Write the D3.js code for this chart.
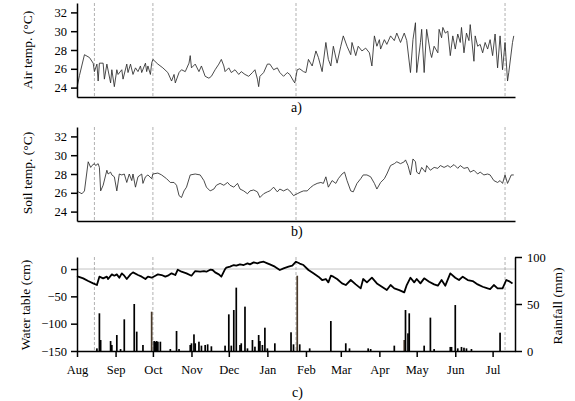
<!DOCTYPE html>
<html>
<head>
<meta charset="utf-8">
<script src="https://cdn.jsdelivr.net/npm/d3@7"></script>
<style>
  body { margin: 0; background: #fff; }
  svg { font-family: "Liberation Serif", "Times New Roman", serif; }
  .axis path, .axis line { stroke: #000; stroke-width: 1.5; }
  .axis text { font-size: 12.5px; fill: #000; font-family: "Liberation Serif", serif; }
  .axis-label { font-size: 13.5px; fill: #000; }
  .panel-label { font-size: 14px; fill: #000; }
</style>
</head>
<body>
<div id="chart"></div>
<script>
// day 0 = 1 Aug
const startDate = new Date(2010, 7, 1);
const endDate = new Date(2010, 7, 1 + 352);
const markerDays = [14, 61, 176, 344];

const tempTicks = [24, 26, 28, 30, 32];
const waterTicks = [0, -50, -100, -150];
const rainTicks = [0, 50, 100];

const airDays = [0, 2, 6, 10, 13, 14, 16, 17, 18, 21, 22, 24, 27, 28, 30, 32, 33, 36, 37, 40, 41, 43, 45, 47, 49, 51, 52, 55, 56, 57, 59, 60, 61, 65, 69, 73, 76, 78, 79, 82, 84, 87, 90, 91, 92, 95, 98, 100, 103, 106, 108, 111, 114, 116, 118, 119, 122, 124, 127, 130, 132, 135, 138, 141, 143, 145, 146, 147, 150, 153, 155, 158, 161, 163, 166, 169, 171, 174, 175, 177, 179, 182, 184, 186, 189, 192, 194, 197, 200, 202, 204, 206, 209, 212, 214, 217, 220, 221, 224, 226, 229, 232, 235, 237, 239, 241, 243, 244, 247, 249, 252, 255, 257, 260, 263, 265, 268, 270, 272, 273, 276, 277, 279, 281, 284, 285, 287, 290, 291, 293, 294, 296, 298, 300, 302, 304, 306, 308, 309, 311, 313, 315, 316, 319, 320, 322, 324, 326, 328, 330, 332, 334, 336, 338, 340, 342, 344, 346, 347, 350, 351];
const airTemp = [24.0, 25.3, 27.5, 27.2, 26.6, 25.7, 26.5, 24.7, 26.6, 26.6, 24.9, 26.5, 24.5, 25.9, 24.1, 25.9, 25.4, 25.9, 24.9, 26.5, 25.6, 26.5, 25.4, 26.1, 25.7, 26.3, 25.6, 26.6, 25.7, 26.3, 25.4, 26.6, 27.0, 26.5, 26.1, 25.6, 24.7, 25.4, 24.5, 25.6, 25.9, 25.7, 26.6, 27.4, 26.1, 26.5, 25.7, 26.3, 25.2, 25.0, 25.2, 25.9, 26.5, 27.0, 26.3, 25.7, 26.1, 25.6, 25.9, 25.4, 25.7, 25.4, 25.2, 25.6, 25.9, 24.9, 24.1, 25.2, 25.6, 26.5, 26.5, 25.9, 26.1, 25.6, 25.2, 25.6, 25.4, 24.7, 24.5, 25.9, 26.0, 25.7, 25.6, 27.0, 26.3, 27.9, 27.2, 25.7, 28.8, 27.0, 26.3, 28.4, 26.6, 28.4, 29.5, 28.4, 27.5, 28.8, 27.4, 28.4, 27.9, 28.2, 27.7, 26.3, 29.5, 28.4, 29.1, 28.1, 29.1, 28.6, 29.5, 29.0, 29.8, 28.8, 29.8, 29.0, 25.6, 29.1, 30.9, 25.6, 28.8, 30.2, 25.6, 30.2, 27.7, 27.2, 28.4, 27.7, 30.2, 29.3, 30.4, 29.8, 30.0, 27.4, 29.5, 28.1, 29.7, 28.8, 30.4, 27.7, 29.8, 29.0, 30.7, 26.8, 29.5, 28.4, 28.6, 27.7, 28.8, 28.1, 29.1, 27.4, 29.7, 26.1, 29.5, 25.9, 28.8, 24.7, 25.6, 28.8, 29.5];

const soilDays = [0, 1, 4, 6, 9, 11, 12, 14, 15, 17, 18, 19, 21, 24, 25, 27, 28, 30, 32, 34, 36, 38, 40, 42, 44, 45, 47, 49, 52, 53, 55, 57, 60, 61, 65, 68, 72, 75, 78, 80, 82, 84, 86, 88, 91, 95, 99, 102, 104, 107, 110, 112, 115, 118, 121, 123, 126, 129, 131, 134, 137, 139, 142, 145, 147, 150, 153, 155, 158, 161, 163, 166, 169, 171, 174, 177, 180, 182, 185, 188, 190, 193, 196, 198, 200, 202, 205, 208, 210, 213, 215, 217, 220, 222, 225, 228, 230, 233, 236, 239, 241, 244, 247, 249, 252, 255, 257, 260, 263, 264, 266, 268, 270, 272, 273, 275, 277, 280, 281, 284, 287, 290, 292, 295, 298, 300, 303, 306, 308, 311, 314, 316, 319, 322, 324, 327, 330, 332, 335, 338, 340, 342, 344, 346, 349, 351];
const soilTemp = [26.0, 26.1, 25.9, 26.2, 29.3, 28.7, 28.9, 29.1, 28.9, 29.1, 28.7, 26.2, 26.8, 28.4, 28.0, 28.2, 27.9, 27.7, 26.2, 28.0, 27.9, 28.0, 27.1, 28.0, 27.3, 28.0, 26.6, 27.7, 28.0, 27.0, 27.7, 27.9, 27.5, 28.0, 28.1, 27.9, 27.5, 27.1, 27.1, 26.8, 25.7, 25.5, 26.2, 26.6, 27.9, 28.0, 27.9, 27.3, 26.6, 26.2, 26.4, 26.8, 27.0, 26.8, 27.1, 26.8, 26.6, 27.0, 26.4, 26.2, 25.9, 26.2, 26.3, 26.1, 25.5, 25.9, 26.1, 26.2, 26.6, 26.1, 26.4, 26.2, 26.4, 26.2, 25.7, 25.9, 26.1, 26.2, 26.2, 26.6, 26.8, 27.0, 27.1, 27.0, 27.7, 26.6, 27.3, 27.0, 27.5, 28.0, 28.2, 27.3, 26.2, 26.1, 27.0, 27.5, 27.9, 27.9, 27.7, 27.0, 26.4, 27.1, 27.5, 28.0, 28.9, 29.1, 29.3, 29.1, 29.3, 29.5, 28.9, 27.9, 29.6, 29.3, 28.2, 28.0, 28.7, 28.2, 28.9, 28.4, 28.7, 28.6, 28.9, 28.7, 28.9, 28.7, 29.0, 28.6, 28.9, 28.6, 28.7, 28.2, 28.4, 28.0, 28.2, 27.9, 28.0, 27.9, 27.3, 27.1, 27.3, 27.0, 27.9, 27.0, 27.9, 27.9];

const waterDays = [0, 1, 5, 9, 13, 16, 18, 21, 24, 25, 28, 30, 32, 34, 36, 38, 40, 43, 45, 49, 52, 55, 57, 60, 63, 65, 68, 71, 73, 76, 79, 81, 84, 88, 92, 95, 99, 102, 104, 107, 109, 111, 114, 116, 119, 120, 123, 126, 128, 131, 134, 137, 139, 142, 145, 147, 150, 153, 155, 159, 163, 166, 170, 173, 176, 179, 182, 186, 190, 194, 197, 200, 202, 204, 206, 209, 213, 216, 220, 224, 228, 230, 233, 237, 241, 245, 249, 252, 255, 259, 263, 265, 268, 271, 273, 276, 279, 283, 287, 290, 293, 296, 300, 304, 307, 310, 314, 318, 322, 326, 330, 332, 335, 338, 342, 345, 347, 350];
const waterTable = [-13, -14.0, -17.1, -22.0, -26.3, -29.3, -14.0, -17.1, -14.0, -18.3, -9.8, -12.2, -9.8, -15.9, -7.9, -12.2, -18.3, -9.8, -6.1, -11.0, -14.0, -18.3, -14.0, -15.9, -12.2, -9.8, -11.0, -14.0, -12.2, -7.9, -11.0, -1.2, -4.9, -7.9, -12.2, -3.7, -4.9, -3.7, -4.9, -1.2, -1.8, -6.1, -9.8, -14.0, 0, 2.4, 4.3, 7.3, 6.1, 8.5, 7.3, 10.4, 8.5, 12.2, 10.4, 12.2, 13.4, 10.4, 8.5, 4.3, -1.8, 1.2, 4.3, 6.1, 13.4, 10.0, 7.3, -1.8, -7.9, -14.0, -20.1, -18.3, -24.4, -12.2, -14.0, -18.3, -26.3, -29.3, -20.1, -28.1, -35.4, -18.3, -24.4, -15.9, -26.3, -32.4, -38.5, -29.3, -35.4, -38.5, -42.7, -29.3, -15.9, -24.4, -18.3, -26.3, -17.1, -23.2, -28.1, -30.5, -20.1, -30.5, -7.9, -15.9, -20.1, -14.0, -20.1, -22.0, -28.1, -32.4, -35.4, -36.6, -29.3, -35.4, -35.4, -20.1, -22.0, -26.3];

const rainDays = [16, 18, 19, 27, 28, 32, 35, 38, 46, 48, 53, 60, 62, 63, 64, 65, 67, 75, 80, 82, 91, 92, 94, 95, 98, 100, 103, 105, 108, 119, 122, 124, 126, 128, 131, 132, 135, 137, 141, 143, 146, 147, 149, 151, 153, 159, 172, 174, 177, 179, 187, 204, 216, 219, 234, 236, 255, 263, 264, 266, 267, 279, 284, 287, 300, 301, 304, 306, 309, 311, 313, 317, 340];
const rainfall = [2.8, 40.1, 11.7, 10.6, 6.4, 17.0, 2.1, 33.7, 50.0, 20.6, 6.4, 41.8, 10.6, 9.9, 10.6, 9.9, 9.9, 2.1, 21.3, 2.1, 6.4, 8.2, 17.7, 8.2, 9.9, 5.7, 6.4, 7.1, 5.0, 5.7, 39.0, 5.7, 43.6, 67.4, 6.4, 8.2, 47.2, 2.8, 11.7, 4.6, 17.0, 10.6, 6.4, 24.8, 2.8, 8.2, 19.9, 7.1, 80.1, 7.1, 2.8, 31.9, 8.2, 2.8, 2.8, 2.1, 5.7, 11.7, 43.6, 18.8, 40.1, 5.7, 35.5, 2.1, 4.3, 4.3, 48.9, 2.8, 4.3, 3.5, 2.8, 2.1, 19.5];
const highlightRainDays = [60, 177, 263];

const toDate = (d) => new Date(2010, 7, 1 + d);

const width = 575;
const height = 401;
const plotLeft = 77;
const plotRight = 515;
const panelA = { top: 3, bottom: 97 };
const panelB = { top: 127, bottom: 221 };
const panelC = { top: 257, bottom: 351 };

const svg = d3.select('#chart')
  .append('svg')
    .attr('width', width)
    .attr('height', height);

svg.append('rect')
    .attr('width', width)
    .attr('height', height)
    .attr('fill', '#fff');

const x = d3.scaleTime()
    .domain([startDate, endDate])
    .range([plotLeft, plotRight]);

function DrawMarkers(panel) {
  svg.append('g')
      .attr('class', 'markers')
    .selectAll('line')
    .data(markerDays)
    .enter().append('line')
      .attr('x1', (d) => x(toDate(d)))
      .attr('x2', (d) => x(toDate(d)))
      .attr('y1', panel.top)
      .attr('y2', panel.bottom)
      .attr('stroke', '#a8a8a8')
      .attr('stroke-width', 0.9)
      .attr('stroke-dasharray', '3,2');
}

function TempPanel(panel, days, values, label, labelY, tag) {
  const y = d3.scaleLinear()
      .domain([23, 33])
      .range([panel.bottom, panel.top]);

  DrawMarkers(panel);

  const line = d3.line()
      .x((d, i) => x(toDate(days[i])))
      .y((d) => y(d));

  svg.append('path')
      .datum(values)
      .attr('fill', 'none')
      .attr('stroke', '#2a2a2a')
      .attr('stroke-width', 0.85)
      .attr('stroke-linejoin', 'round')
      .attr('d', line);

  svg.append('g')
      .attr('class', 'axis')
      .attr('transform', 'translate(' + plotLeft + ',0)')
      .call(d3.axisLeft(y)
        .tickValues(tempTicks)
        .tickSize(6)
        .tickPadding(4)
        .tickSizeOuter(0));

  svg.append('g')
      .attr('class', 'axis')
      .attr('transform', 'translate(0,' + panel.bottom + ')')
      .call(d3.axisBottom(x)
        .tickValues([])
        .tickSizeOuter(0));

  svg.append('text')
      .attr('class', 'axis-label')
      .attr('text-anchor', 'middle')
      .attr('transform', 'translate(27,' + labelY + ') rotate(-90)')
      .attr('dy', '0.35em')
      .text(label);

  svg.append('text')
      .attr('class', 'panel-label')
      .attr('x', 291)
      .attr('y', panel.bottom + 15)
      .text(tag);
}

TempPanel(panelA, airDays, airTemp, 'Air temp. (°C)', 50, 'a)');
TempPanel(panelB, soilDays, soilTemp, 'Soil temp. (°C)', 173, 'b)');

// panel c
const yWater = d3.scaleLinear()
    .domain([-150, 22])
    .range([panelC.bottom, panelC.top]);
const yRain = d3.scaleLinear()
    .domain([0, 100])
    .range([panelC.bottom, panelC.top]);

svg.append('line')
    .attr('x1', plotLeft)
    .attr('x2', plotRight)
    .attr('y1', yWater(0))
    .attr('y2', yWater(0))
    .attr('stroke', '#c4c4c4')
    .attr('stroke-width', 1);

DrawMarkers(panelC);

const barWidth = 1.7;
svg.append('g')
    .attr('class', 'bars')
  .selectAll('rect')
  .data(rainfall)
  .enter().append('rect')
    .attr('x', (d, i) => x(toDate(rainDays[i])) - barWidth / 2)
    .attr('y', (d) => yRain(d))
    .attr('width', barWidth)
    .attr('height', (d) => yRain(0) - yRain(d))
    .attr('fill', (d, i) => highlightRainDays.indexOf(rainDays[i]) >= 0 ? '#4a3a2a' : '#000');

const waterLine = d3.line()
    .x((d, i) => x(toDate(waterDays[i])))
    .y((d) => yWater(d));

svg.append('path')
    .datum(waterTable)
    .attr('fill', 'none')
    .attr('stroke', '#000')
    .attr('stroke-width', 1.8)
    .attr('stroke-linejoin', 'round')
    .attr('d', waterLine);

svg.append('g')
    .attr('class', 'axis')
    .attr('transform', 'translate(' + plotLeft + ',0)')
    .call(d3.axisLeft(yWater)
      .tickValues(waterTicks)
      .tickSize(6)
      .tickPadding(4)
      .tickSizeOuter(0));

svg.append('g')
    .attr('class', 'axis')
    .attr('transform', 'translate(' + plotRight + ',0)')
    .call(d3.axisRight(yRain)
      .tickValues(rainTicks)
      .tickSize(7)
      .tickPadding(5)
      .tickSizeOuter(0));

svg.append('g')
    .attr('class', 'axis')
    .attr('transform', 'translate(0,' + panelC.bottom + ')')
    .call(d3.axisBottom(x)
      .ticks(d3.timeMonth.every(1))
      .tickFormat(d3.timeFormat('%b'))
      .tickSize(6)
      .tickPadding(8)
      .tickSizeOuter(0));

svg.append('text')
    .attr('class', 'axis-label')
    .attr('text-anchor', 'middle')
    .attr('transform', 'translate(25,305) rotate(-90)')
    .attr('dy', '0.35em')
    .text('Water table (cm)');

svg.append('text')
    .attr('class', 'axis-label')
    .attr('text-anchor', 'middle')
    .attr('transform', 'translate(557,306) rotate(-90)')
    .attr('dy', '0.35em')
    .text('Rainfall (mm)');

svg.append('text')
    .attr('class', 'panel-label')
    .attr('x', 292)
    .attr('y', 397)
    .text('c)');
</script>
</body>
</html>
